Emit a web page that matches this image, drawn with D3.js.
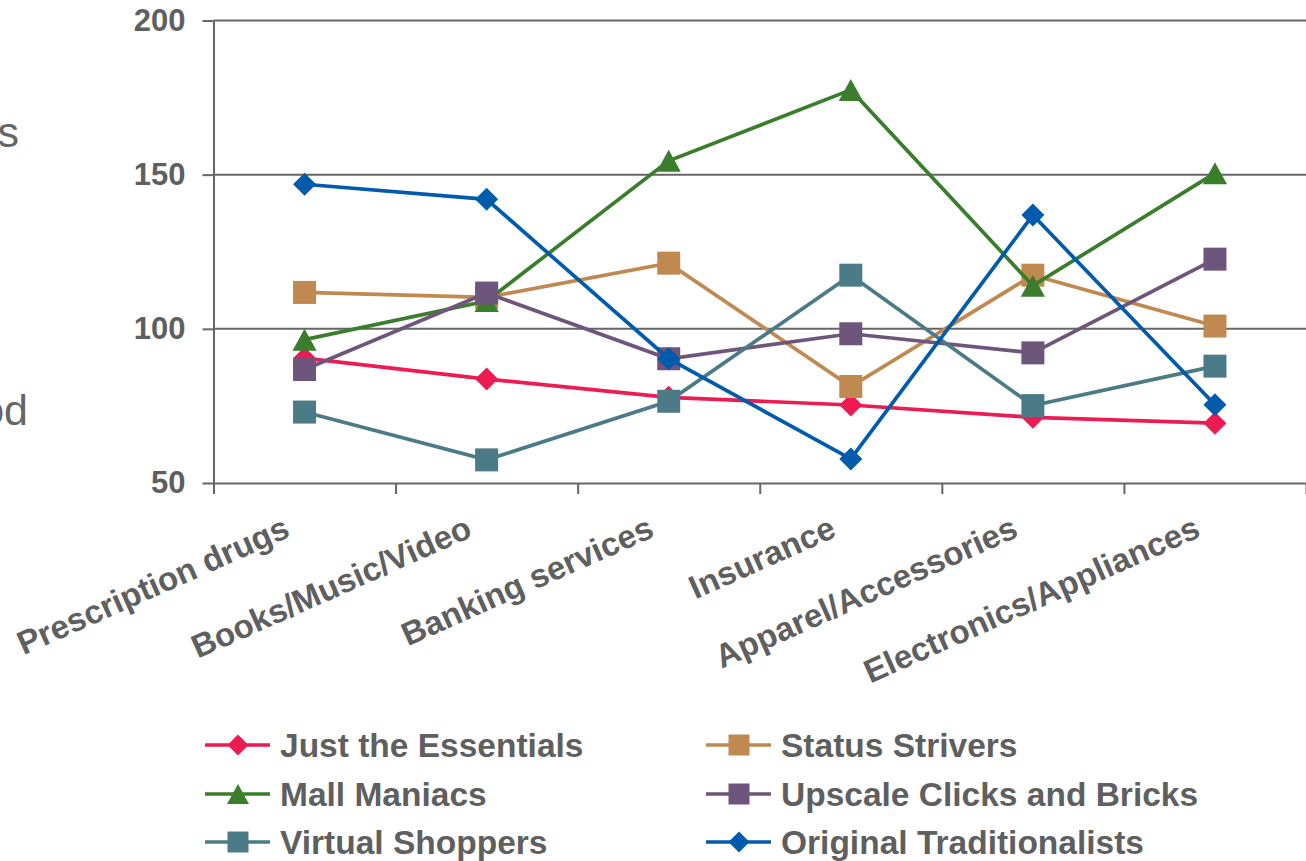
<!DOCTYPE html>
<html>
<head>
<meta charset="utf-8">
<script src="https://cdn.jsdelivr.net/npm/d3@7"></script>
<style>
  body { margin: 0; background: #fff; }
  svg { display: block; }
  text { font-family: "Liberation Sans", Arial, sans-serif; }
</style>
</head>
<body>
<script>
const categories = ['Prescription drugs', 'Books/Music/Video', 'Banking services', 'Insurance', 'Apparel/Accessories', 'Electronics/Appliances'];
const seriesNames = ['Just the Essentials', 'Status Strivers', 'Mall Maniacs', 'Upscale Clicks and Bricks', 'Virtual Shoppers', 'Original Traditionalists'];
const justEssentials = [90.5, 83.7, 77.8, 75.3, 71.3, 69.4];
const statusStrivers = [111.8, 110.2, 121.3, 81.3, 117.4, 100.9];
const mallManiacs = [96.5, 109, 154.5, 177.5, 114, 150.5];
const upscaleClicks = [86.8, 111.6, 90.3, 98.4, 92.2, 122.6];
const virtualShoppers = [73, 57.5, 76.5, 117.4, 75.1, 87.9];
const originalTrad = [146.9, 142, 90.3, 57.8, 136.9, 75.4];
const yTicks = [50, 100, 150, 200];

const seriesValues = [justEssentials, statusStrivers, mallManiacs, upscaleClicks, virtualShoppers, originalTrad];
const colors = ['#EC1C52', '#C0894F', '#3A7D2C', '#6E557B', '#4A7B86', '#005BAC'];
const shapes = ['diamond', 'square', 'triangle', 'square', 'square', 'diamond'];

const W = 1306, H = 861;
const plot = {left: 213.5, right: 1306, top: 20.5, bottom: 483};
const textColor = '#5F5F5F';
const axisColor = '#666666';

const svg = d3.select('body').append('svg')
	.attr('width', W)
	.attr('height', H);

const x = d3.scaleBand().domain(categories).range([plot.left, plot.right]).padding(0);
const xEdge = d3.scaleLinear().domain([0, categories.length]).range([plot.left, plot.right]);
const y = d3.scaleLinear().domain([50, 200]).range([plot.bottom, plot.top]);
const cx = (c) => x(c) + x.bandwidth() / 2;

// cut-off title fragments at the left edge
svg.append('text').attr('x', 19).attr('y', 147).attr('text-anchor', 'end')
	.attr('font-size', 43).attr('fill', '#666').text('s');
svg.append('text').attr('x', 28).attr('y', 425).attr('text-anchor', 'end')
	.attr('font-size', 43).attr('fill', '#666').text('od');

// gridlines
svg.append('g')
	.selectAll('line')
	.data(yTicks.filter(d => d > 50))
	.enter()
	.append('line')
	.attr('x1', plot.left).attr('x2', plot.right)
	.attr('y1', d => y(d)).attr('y2', d => y(d))
	.attr('stroke', axisColor).attr('stroke-width', 2);

// y axis
const yAxis = svg.append('g')
	.attr('transform', `translate(${plot.left}, 0)`)
	.call(d3.axisLeft(y).tickValues(yTicks).tickSize(11).tickSizeOuter(0).tickPadding(17));

// x axis (ticks on category boundaries)
const xAxis = svg.append('g')
	.attr('transform', `translate(0, ${plot.bottom})`)
	.call(d3.axisBottom(xEdge).tickValues(d3.range(categories.length + 1)).tickSize(11).tickSizeOuter(0).tickFormat(''));

[yAxis, xAxis].forEach(g => {
	g.select('.domain').attr('stroke', axisColor).attr('stroke-width', 2);
	g.selectAll('.tick line').attr('stroke', axisColor).attr('stroke-width', 2);
	g.selectAll('.tick text').attr('fill', textColor).attr('font-size', 31).attr('font-weight', 'bold')
		.attr('font-family', '"Liberation Sans", Arial, sans-serif');
});

// category labels
svg.append('g')
	.selectAll('text')
	.data(categories)
	.enter()
	.append('text')
	.attr('transform', d => `translate(${cx(d) - 13}, 536) rotate(-24)`)
	.attr('text-anchor', 'end')
	.attr('font-size', 33)
	.attr('font-weight', 'bold')
	.attr('fill', textColor)
	.text(d => d);

function markerPath(shape, s) {
	const h = s / 2;
	if (shape === 'diamond') return `M0,${-h}L${h},0L0,${h}L${-h},0Z`;
	if (shape === 'square') return `M${-h},${-h}H${h}V${h}H${-h}Z`;
	return `M0,${-h}L${h * 1.1},${h}L${-h * 1.1},${h}Z`;
}

const line = d3.line().x((d, i) => cx(categories[i])).y(d => y(d));

seriesValues.forEach((vals, si) => {
	const g = svg.append('g');
	g.append('path')
		.attr('d', line(vals))
		.attr('fill', 'none')
		.attr('stroke', colors[si])
		.attr('stroke-width', 3.7);
	g.selectAll('path.m')
		.data(vals)
		.enter()
		.append('path')
		.attr('class', 'm')
		.attr('transform', (d, i) => `translate(${cx(categories[i])}, ${y(d)})`)
		.attr('d', markerPath(shapes[si], shapes[si] === 'triangle' ? 22 : 23))
		.attr('fill', colors[si]);
});

// legend
const legendCols = [205, 706];
const legendRows = [745, 794, 842];
const legend = svg.append('g')
	.selectAll('g')
	.data(seriesNames)
	.enter()
	.append('g')
	.attr('transform', (d, i) => `translate(${legendCols[i % 2]}, ${legendRows[Math.floor(i / 2)]})`);

legend.append('line')
	.attr('x1', 0).attr('x2', 65)
	.attr('stroke', (d, i) => colors[i])
	.attr('stroke-width', 3.7);
legend.append('path')
	.attr('transform', 'translate(33, 0)')
	.attr('d', (d, i) => markerPath(shapes[i], shapes[i] === 'triangle' ? 20 : 21))
	.attr('fill', (d, i) => colors[i]);
legend.append('text')
	.attr('x', 75)
	.attr('y', 12)
	.attr('font-size', 33.5)
	.attr('font-weight', 'bold')
	.attr('fill', textColor)
	.text(d => d);
</script>
</body>
</html>
